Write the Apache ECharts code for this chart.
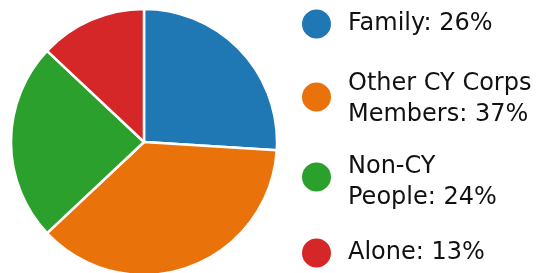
<!DOCTYPE html>
<html><head><meta charset="utf-8">
<script src="https://cdn.jsdelivr.net/npm/echarts@6/dist/echarts.min.js"></script>
<style>html,body{margin:0;padding:0;background:#fff}#c{width:558px;height:273px}</style>
</head><body><div id="c"></div>
<script>
const categories = ["Family", "Other CY Corps Members", "Non-CY People", "Alone"];
const labelLines = [["Family: 26%"], ["Other CY Corps", "Members: 37%"], ["Non-CY", "People: 24%"], ["Alone: 13%"]];
const values = [26, 37, 24, 13];
const colors = ["#1f77b4", "#e9720b", "#2ca02c", "#d62728"];

const legendCenters = [23, 97, 177, 252];
// line box heights (first line, second line) used to place the text against the marker
const lineBoxes = [[31], [36, 26], [42, 20], [31]];
const topAdjust = [0, 6, 9, 0];

const chart = echarts.init(document.getElementById('c'), null, {renderer: 'canvas'});
const legends = categories.map((c, i) => {
  const boxes = lineBoxes[i];
  const h = Math.max(31, boxes.reduce((a, b) => a + b, 0));
  const rich = {};
  boxes.forEach((lh, k) => {
    rich['l' + k] = {fontFamily: 'DejaVu Sans', fontSize: 24, color: '#111', lineHeight: lh, padding: [0, 0, 0, 11]};
  });
  return {
    data: [c],
    left: 300,
    top: legendCenters[i] - h / 2 + topAdjust[i],
    orient: 'vertical',
    icon: 'circle',
    itemWidth: 31,
    itemHeight: 31,
    itemGap: 0,
    padding: 0,
    selectedMode: false,
    formatter: () => labelLines[i].map((t, k) => '{l' + k + '|' + t + '}').join('\n'),
    textStyle: {
      fontFamily: 'DejaVu Sans',
      fontSize: 24,
      color: '#111',
      rich: rich
    }
  };
});

chart.setOption({
  animation: false,
  color: colors,
  legend: legends,
  series: [{
    type: 'pie',
    center: [144, 142],
    radius: 133,
    startAngle: 90,
    clockwise: true,
    label: {show: false},
    labelLine: {show: false},
    itemStyle: {borderColor: '#fff', borderWidth: 2.5},
    emphasis: {disabled: true},
    data: categories.map((c, i) => ({name: c, value: values[i]}))
  }]
});
</script></body></html>
